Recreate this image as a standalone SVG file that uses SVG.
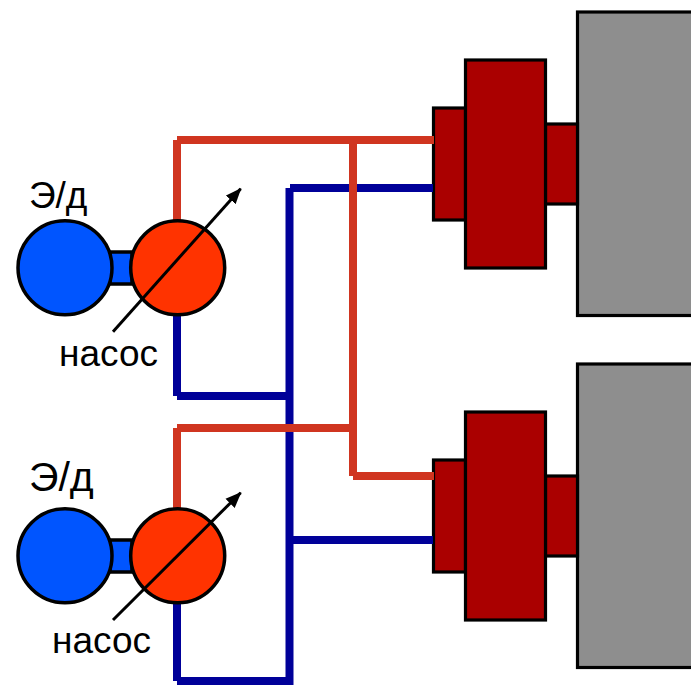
<svg xmlns="http://www.w3.org/2000/svg" width="691" height="685" viewBox="0 0 691 685">
<style>
.k{stroke:#000;stroke-width:3.5}
.g{fill:#8e8e8e;stroke:#000;stroke-width:3.200}
.r{fill:#aa0000;stroke:#000;stroke-width:3.200}
.m{fill:#0055ff}
.p{fill:#ff3300}
.hot{stroke:#d03520;stroke-width:8;fill:none}
.cold{stroke:#000099;stroke-width:8;fill:none}
.ar{stroke:#000;stroke-width:3;fill:none}
text{font-family:"Liberation Sans",Arial,sans-serif;fill:#000}
</style>
<defs>
<marker id="ah" markerUnits="userSpaceOnUse" markerWidth="16" markerHeight="14" refX="15" refY="7" orient="auto" viewBox="0 0 16 14"><path d="M0 0.500L16 7L0 13.500Z" fill="#000"/></marker>
</defs>
<rect width="691" height="685" fill="#fff"/>
<g id="machine-top">
<rect class="g" x="577.5" y="12" width="120" height="303.5"/>
<rect class="r" x="545.5" y="124" width="32" height="80"/>
<rect class="r" x="433.5" y="108" width="32" height="112"/>
<rect class="r" x="465.5" y="60" width="80" height="208"/>
</g>
<g id="machine-bottom">
<rect class="g" x="577.5" y="364" width="120" height="303.5"/>
<rect class="r" x="545.5" y="476" width="32" height="80"/>
<rect class="r" x="433.5" y="460" width="32" height="112"/>
<rect class="r" x="465.5" y="412" width="80" height="208"/>
</g>
<g id="connectors">
<path class="cold" d="M433 188H290"/>
<path class="cold" d="M289.500 188V685"/>
<path class="cold" d="M433 540H290"/>
<path class="cold" d="M177 300V396"/>
<path class="cold" d="M177 396H290"/>
<path class="cold" d="M177 590V681"/>
<path class="cold" d="M177 681H290"/>
<path class="hot" d="M177 230V140"/>
<path class="hot" d="M177 140H434"/>
<path class="hot" d="M353 140V476"/>
<path class="hot" d="M353 476H434"/>
<path class="hot" d="M177 520V428"/>
<path class="hot" d="M177 428H353"/>
</g>
<g id="motor-top">
<rect class="m k" x="110" y="252" width="22" height="32"/>
<circle class="m k" cx="65" cy="267.700" r="47"/>
<text x="29" y="208" font-size="37">Э/д</text>
</g>
<g id="pump-top">
<circle class="p k" cx="177.700" cy="267.700" r="47"/>
<path class="ar" d="M113 331.700L240.700 188.700" marker-end="url(#ah)"/>
<text x="59" y="366" font-size="37">насос</text>
</g>
<g id="motor-bottom">
<rect class="m k" x="110" y="540" width="22" height="32"/>
<circle class="m k" cx="65" cy="555.700" r="47"/>
<text x="29" y="491" font-size="41">Э/д</text>
</g>
<g id="pump-bottom">
<circle class="p k" cx="177.700" cy="555.700" r="47"/>
<path class="ar" d="M113 620L240.700 492.700" marker-end="url(#ah)"/>
<text x="52" y="653" font-size="37">насос</text>
</g>
</svg>
